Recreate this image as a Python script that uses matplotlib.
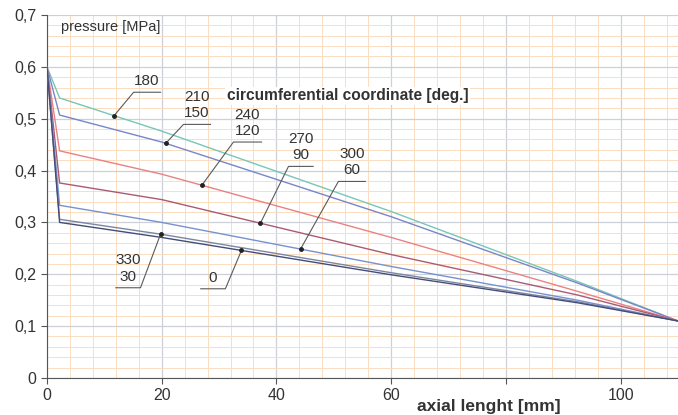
import numpy as np
import matplotlib.pyplot as plt
from matplotlib.ticker import MultipleLocator, FixedLocator

plt.rcParams['font.family'] = ['Liberation Sans', 'DejaVu Sans']

# axial positions [mm] where the pressure was read
axial = [0, 2.2, 20, 60, 92.5, 110]

# pressure [MPa] per circumferential coordinate group
p_180 = [0.60, 0.540, 0.476, 0.321, 0.186, 0.11]
p_150_210 = [0.60, 0.507, 0.455, 0.311, 0.183, 0.11]
p_120_240 = [0.60, 0.438, 0.393, 0.271, 0.167, 0.11]
p_90_270 = [0.60, 0.376, 0.344, 0.238, 0.160, 0.11]
p_60_300 = [0.60, 0.333, 0.300, 0.215, 0.150, 0.11]
p_30_330 = [0.60, 0.306, 0.277, 0.203, 0.147, 0.11]
p_0 = [0.60, 0.300, 0.271, 0.199, 0.145, 0.11]

labels = ['180', '210\n150', '240\n120', '270\n90', '300\n60', '330\n30', '0']
series = [p_180, p_150_210, p_120_240, p_90_270, p_60_300, p_30_330, p_0]
colors = ['#78c6b8', '#7886c8', '#ea8282', '#aa5a74', '#7692cf', '#7c86a2', '#444c78']

# leader lines: x of dot on curve, underline (x0, x1, y), side the diagonal leaves from
leaders = [
    (11.7, 15.1, 19.8, 0.551, 'left'),
    (20.7, 23.8, 28.5, 0.489, 'left'),
    (27.0, 32.5, 37.4, 0.455, 'left'),
    (37.2, 42.1, 46.4, 0.408, 'left'),
    (44.2, 50.8, 55.5, 0.379, 'left'),
    (19.8, 12.0, 16.3, 0.174, 'right'),
    (33.9, 26.8, 31.1, 0.172, 'right'),
]

fig = plt.figure(figsize=(6.78, 4.15), dpi=100)
ax = fig.add_axes([0.0693, 0.0892, 0.9307, 0.8747])

for ys, c in zip(series, colors):
    ax.plot(axial, ys, color=c, lw=1.0, zorder=3)

for (lab, ys, (xd, x0, x1, yu, side)) in zip(labels, series, leaders):
    yd = np.interp(xd, axial, ys)
    xs = x0 if side == 'left' else x1
    ax.plot([x1 if side == 'left' else x0, xs, xd], [yu, yu, yd],
            color='#5a5a5a', lw=0.8, zorder=4)
    ax.plot([xd], [yd], 'o', color='#222222', ms=2.5, zorder=5)
    ax.text((x0 + x1) / 2, yu + 0.008, lab, ha='center', va='bottom',
            fontsize=11, color='#333333', linespacing=1.2, zorder=6)

ax.text(2.5, 0.677, 'pressure [MPa]', fontsize=10.5, color='#333333', va='center')
ax.text(31.3, 0.544, 'circumferential coordinate [deg.]', fontsize=11.2,
        fontweight='bold', color='#333333', va='center',
        bbox=dict(facecolor='white', edgecolor='none', pad=1))

ax.set_xlim(0, 110)
ax.set_ylim(0, 0.7)
ax.xaxis.set_major_locator(FixedLocator([0, 20, 40, 60, 80, 100]))
ax.set_xticklabels(['0', '20', '40', '60', '', '100'])
ax.xaxis.set_minor_locator(MultipleLocator(4))
ax.yaxis.set_major_locator(MultipleLocator(0.1))
ax.yaxis.set_minor_locator(MultipleLocator(0.02))
ax.set_yticks(np.arange(0, 0.71, 0.1))
ax.set_yticklabels(['0', '0,1', '0,2', '0,3', '0,4', '0,5', '0,6', '0,7'])

ax.grid(which='minor', color='#fbdcc0', lw=0.7)
ax.grid(which='major', color='#cdd0d6', lw=0.9)
ax.set_axisbelow(True)
ax.tick_params(which='major', direction='out', length=4, color='#555555',
               labelsize=11.5, labelcolor='#333333')
ax.tick_params(which='minor', length=0)
for s in ['top', 'right']:
    ax.spines[s].set_visible(False)
for s in ['left', 'bottom']:
    ax.spines[s].set_color('#555555')

ax.text(77, -0.055, 'axial lenght [mm]', fontsize=12.5, fontweight='bold',
        color='#333333', ha='center', va='center')

fig.savefig('out.png', dpi=100)
